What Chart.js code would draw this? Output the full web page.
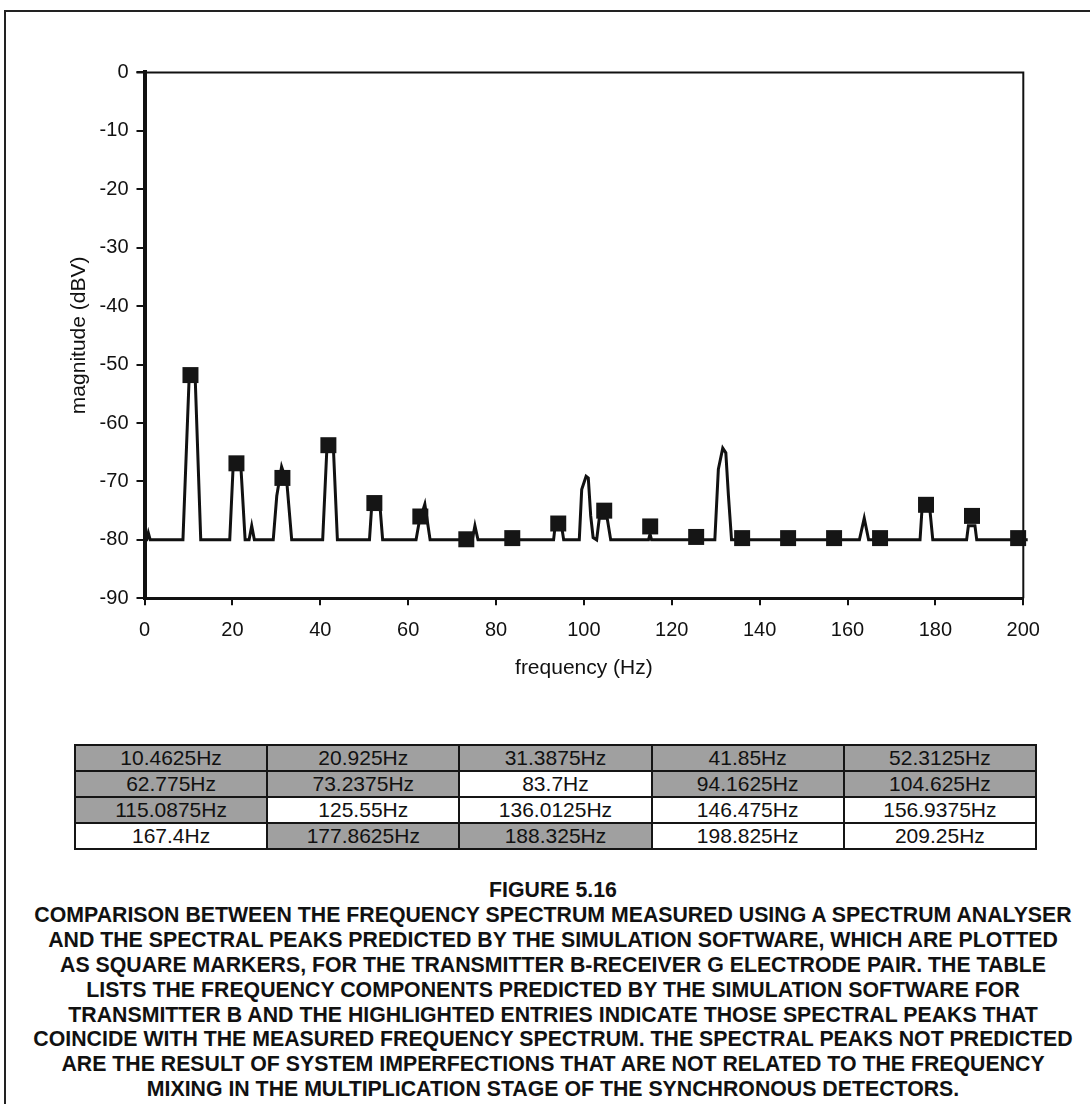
<!DOCTYPE html>
<html>
<head>
<meta charset="utf-8">
<script src="https://cdn.jsdelivr.net/npm/chart.js@4.4.1/dist/chart.umd.min.js"></script>
<style>
  html, body { margin: 0; padding: 0; background: #fff; }
  body { width: 1090px; height: 1104px; position: relative; overflow: hidden; font-family: "Liberation Sans", Arial, sans-serif; }
  #frame { position: absolute; left: 4px; top: 10px; width: 1100px; height: 1110px; border-top: 2px solid #222; border-left: 2px solid #222; }
  #chartC { position: absolute; left: 0; top: 0; }
  #freqTable { position: absolute; left: 74px; top: 744px; width: 963px; border-collapse: collapse; table-layout: fixed; }
  #freqTable td { border: 2px solid #151515; height: 24px; line-height: 24px; padding: 0; text-align: center; font-size: 21px; color: #111; }
  #freqTable td.hit { background: #a0a0a0; }
  #caption { position: absolute; left: 0; top: 878px; width: 1106px; text-align: center; font-weight: bold; font-size: 21.3px; line-height: 24.9px; color: #111; }
</style>
</head>
<body>
<div id="frame"></div>
<canvas id="chartC" width="1090" height="700"></canvas>
<table id="freqTable"></table>
<div id="caption">
FIGURE 5.16<br>
COMPARISON BETWEEN THE FREQUENCY SPECTRUM MEASURED USING A SPECTRUM ANALYSER<br>
AND THE SPECTRAL PEAKS PREDICTED BY THE SIMULATION SOFTWARE, WHICH ARE PLOTTED<br>
AS SQUARE MARKERS, FOR THE TRANSMITTER B-RECEIVER G ELECTRODE PAIR. THE TABLE<br>
LISTS THE FREQUENCY COMPONENTS PREDICTED BY THE SIMULATION SOFTWARE FOR<br>
TRANSMITTER B AND THE HIGHLIGHTED ENTRIES INDICATE THOSE SPECTRAL PEAKS THAT<br>
COINCIDE WITH THE MEASURED FREQUENCY SPECTRUM. THE SPECTRAL PEAKS NOT PREDICTED<br>
ARE THE RESULT OF SYSTEM IMPERFECTIONS THAT ARE NOT RELATED TO THE FREQUENCY<br>
MIXING IN THE MULTIPLICATION STAGE OF THE SYNCHRONOUS DETECTORS.
</div>
<script>
// measured spectrum (spectrum analyser trace)
var specFreq = [0, 0.5, 0.87, 1.3, 8.75, 10.2, 11.5, 12.8, 19.4, 20.2, 21.9, 22.9, 23.8, 24.4, 25.0,
  29.3, 30.1, 31.2, 32.4, 33.5, 40.55, 41.5, 43.0, 43.9, 51.2, 51.7, 53.6, 54.2, 61.8, 62.5, 63.8, 65.0,
  74.6, 75.2, 75.9, 93.1, 93.4, 95.0, 95.4, 98.95, 99.5, 100.5, 101.0, 101.55, 102.1, 102.9, 103.5, 105.3, 106.1,
  114.7, 115.05, 115.4, 129.8, 130.6, 131.6, 132.3, 132.9, 133.6, 162.7, 163.8, 164.8,
  176.5, 176.9, 177.4, 178.3, 178.8, 179.4, 187.1, 187.5, 189.0, 189.4, 201];
var specMag = [-80, -80, -78.8, -80, -80, -51.5, -51.5, -80, -80, -67, -67, -80, -80, -77.6, -80,
  -80, -72.5, -67.5, -70.2, -80, -80, -64.5, -64.5, -80, -80, -74.3, -74.3, -80, -80, -77, -73.9, -80,
  -80, -77.6, -80, -80, -78, -78, -80, -80, -71.4, -69.1, -69.4, -75.9, -79.6, -80, -76.3, -76.3, -80,
  -80, -79, -80, -80, -67.9, -64.3, -65.1, -72.5, -80, -80, -76.3, -80,
  -80, -75.3, -74, -74, -75.3, -80, -80, -77.6, -77.6, -80, -80];

// frequencies predicted by the simulation software (table), highlighted = seen in spectrum
var tableFreq = [10.4625, 20.925, 31.3875, 41.85, 52.3125,
  62.775, 73.2375, 83.7, 94.1625, 104.625,
  115.0875, 125.55, 136.0125, 146.475, 156.9375,
  167.4, 177.8625, 188.325, 198.825, 209.25];
var tableHit = [true, true, true, true, true,
  true, true, false, true, true,
  true, false, false, false, false,
  false, true, true, false, false];

// square marker magnitudes for the predicted peaks inside 0-200 Hz
var peakMag = [-51.8, -66.9, -69.4, -63.8, -73.7, -76.0, -79.9, -79.7, -77.2, -75.0,
  -77.7, -79.5, -79.7, -79.7, -79.7, -79.7, -74.0, -75.9, -79.7];

var yTickStep = 10;
var xTickStep = 20;

// build the table
var tbl = document.getElementById('freqTable');
for (var r = 0; r < 4; r++) {
  var tr = document.createElement('tr');
  for (var c = 0; c < 5; c++) {
    var i = r * 5 + c;
    var td = document.createElement('td');
    td.textContent = tableFreq[i] + 'Hz';
    if (tableHit[i]) td.className = 'hit';
    tr.appendChild(td);
  }
  tbl.appendChild(tr);
}

var spectrum = specFreq.map(function (f, i) { return {x: f, y: specMag[i]}; });
var peaks = peakMag.map(function (m, i) { return {x: tableFreq[i], y: m}; });

// top and right edges of the plot box
var plotBox = {
  id: 'plotBox',
  afterDatasetsDraw: function (chart) {
    var a = chart.chartArea, c = chart.ctx;
    c.save();
    c.strokeStyle = '#111';
    c.lineWidth = 2;
    c.beginPath();
    c.moveTo(a.left - 8, a.top);
    c.lineTo(a.right, a.top);
    c.lineTo(a.right, a.bottom);
    c.stroke();
    c.restore();
  }
};

var ctx = document.getElementById('chartC');
var chartC = new Chart(ctx, {
  type: 'scatter',
  data: {
    datasets: [{
      label: 'predicted',
      data: peaks,
      pointStyle: 'rect',
      pointRadius: 11.3,
      pointBackgroundColor: '#151515',
      pointBorderWidth: 0,
      showLine: false,
      clip: false,
      order: 0
    }, {
      label: 'measured',
      data: spectrum,
      showLine: true,
      borderColor: '#111',
      borderWidth: 3,
      pointRadius: 0,
      tension: 0,
      clip: 10,
      order: 1
    }]
  },
  options: {
    responsive: false,
    animation: false,
    devicePixelRatio: 1,
    layout: { padding: { left: 0, top: 72.4, right: 66.7, bottom: 0 } },
    scales: {
      x: {
        type: 'linear',
        min: 0,
        max: 200,
        ticks: { stepSize: xTickStep, color: '#111', padding: 13, font: { family: 'Liberation Sans', size: 20 } },
        grid: { drawOnChartArea: false, drawTicks: true, tickLength: 7, color: '#111', lineWidth: 2 },
        border: { display: true, color: '#111', width: 3 },
        title: { display: true, text: 'frequency (Hz)', color: '#111', padding: { top: 0, bottom: 19 }, font: { family: 'Liberation Sans', size: 21 } },
        afterFit: function (s) { s.height = 101.7; }
      },
      y: {
        min: -90,
        max: 0,
        ticks: { stepSize: yTickStep, color: '#111', padding: 8, font: { family: 'Liberation Sans', size: 20 } },
        grid: { drawOnChartArea: false, drawTicks: true, tickLength: 8, color: '#111', lineWidth: 2 },
        border: { display: true, color: '#111', width: 4 },
        title: { display: true, text: 'magnitude (dBV)', color: '#111', padding: { top: 67, bottom: 0 }, font: { family: 'Liberation Sans', size: 21 } },
        afterFit: function (s) { s.width = 144.5; }
      }
    },
    plugins: {
      legend: { display: false },
      tooltip: { enabled: false }
    }
  },
  plugins: [plotBox]
});
</script>
</body>
</html>
